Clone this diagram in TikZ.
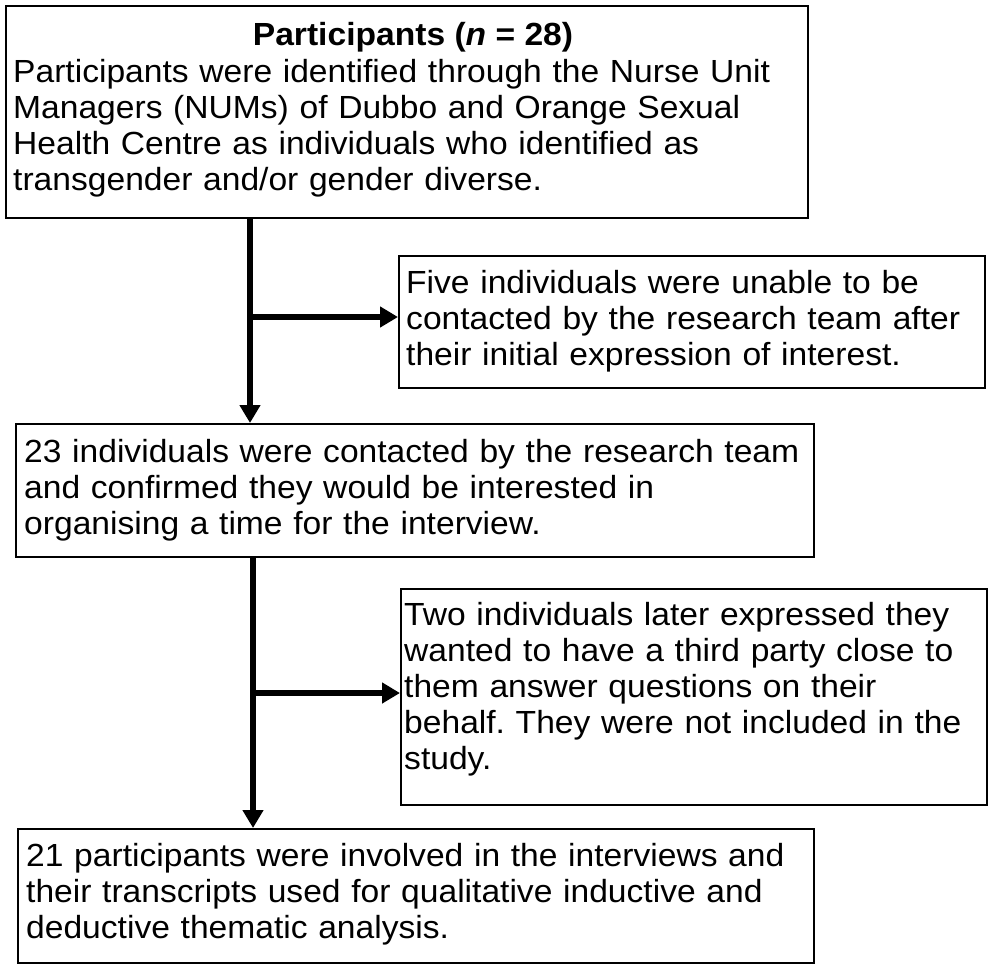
\documentclass[tikz,border=0pt]{standalone}
\usepackage{fontspec}
\setmainfont{Liberation Sans}[FakeStretch=1.05]
\usetikzlibrary{arrows.meta}
\begin{document}
\frenchspacing
\begin{tikzpicture}[x=1pt,y=-1pt,
  font=\fontsize{32}{36}\selectfont\frenchspacing,
  box/.style={draw=black,line width=2pt,inner sep=0pt,anchor=north west,fill=white},
  txt/.style={inner sep=0pt,anchor=base west,align=left,text width=#1},
  conn/.style={line width=6pt,-{Triangle[length=18pt,width=20pt]}}]
\useasboundingbox[fill=white] (0,0) rectangle (992,969);
% boxes
\node[box,minimum width=802pt,minimum height=212pt] (b1) at (5,5) {};
\node[box,minimum width=586pt,minimum height=132pt] (b2) at (398,255) {};
\node[box,minimum width=798pt,minimum height=133pt] (b3) at (15,423) {};
\node[box,minimum width=586pt,minimum height=216pt] (b4) at (400,588) {};
\node[box,minimum width=796pt,minimum height=134pt] (b5) at (17,828) {};
% texts
\node[inner sep=0pt,anchor=base] (t1h) at (413,45) {\bfseries Participants (\textit{n} = 28)};
\node[txt=785pt] (t1) at (13,82) {Participants were identified through the Nurse Unit\\Managers (NUMs) of Dubbo and Orange Sexual\\Health Centre as individuals who identified as\\transgender and/or gender diverse.};
\node[txt=575pt] (t2) at (406,293) {Five individuals were unable to be\\contacted by the research team after\\their initial expression of interest.};
\node[txt=785pt] (t3) at (24,462) {23 individuals were contacted by the research team\\and confirmed they would be interested in\\organising a time for the interview.};
\node[txt=578pt] (t4) at (404,625) {Two individuals later expressed they\\wanted to have a third party close to\\them answer questions on their\\behalf. They were not included in the\\study.};
\node[txt=785pt] (t5) at (26,866) {21 participants were involved in the interviews and\\their transcripts used for qualitative inductive and\\deductive thematic analysis.};
% connectors
\coordinate (j1) at (250,317);
\coordinate (j2) at (253,693);
\draw[conn] (b1.south -| j1) -- (b3.north -| j1);
\draw[conn] (j1) -- (j1 -| b2.west);
\draw[conn] (b3.south -| j2) -- (b5.north -| j2);
\draw[conn] (j2) -- (j2 -| b4.west);
\end{tikzpicture}
\end{document}
